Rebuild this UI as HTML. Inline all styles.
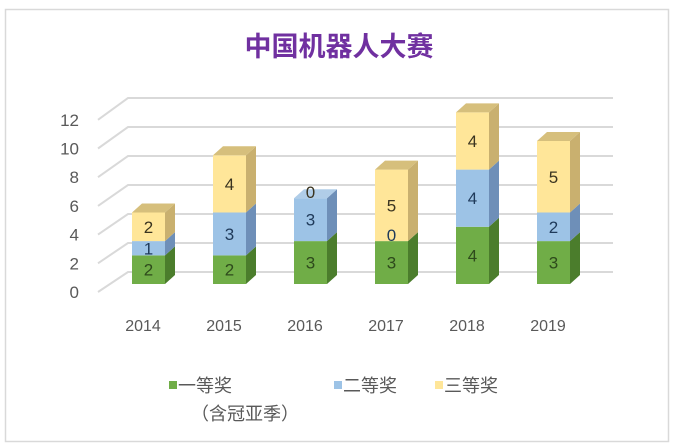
<!DOCTYPE html>
<html><head><meta charset="utf-8"><style>
body{margin:0;background:#fff;}
svg{display:block;font-family:"Liberation Sans","Noto Sans CJK SC",sans-serif;}
</style></head><body>
<svg id="s" width="678" height="448" viewBox="0 0 678 448" xmlns="http://www.w3.org/2000/svg">
<rect x="5.5" y="9.5" width="663" height="432" fill="#fff" stroke="#d9d9d9" stroke-width="1.5"/>
<text x="339" y="56" text-anchor="middle" font-size="27" font-weight="bold" fill="#7030a0" font-family="'Noto Sans CJK SC',sans-serif">中国机器人大赛</text>
<g id="grid"></g>
<g id="bars"></g>
<g font-size="16" fill="#595959" text-anchor="middle">
<text x="143" y="331">2014</text><text x="224" y="331">2015</text><text x="305" y="331">2016</text>
<text x="386" y="331">2017</text><text x="467" y="331">2018</text><text x="548" y="331">2019</text>
</g>
<g font-size="18" fill="#595959">
<rect x="169" y="381" width="8" height="8" fill="#70ad47"/>
<text x="178" y="392" font-family="'Noto Sans CJK SC',sans-serif">一等奖</text>
<text x="191" y="420" font-family="'Noto Sans CJK SC',sans-serif">（含冠亚季）</text>
<rect x="334" y="381" width="8" height="8" fill="#9dc3e6"/>
<text x="343" y="392" font-family="'Noto Sans CJK SC',sans-serif">二等奖</text>
<rect x="435" y="381" width="8" height="8" fill="#ffe699"/>
<text x="444" y="392" font-family="'Noto Sans CJK SC',sans-serif">三等奖</text>
</g>
</svg>
<script>
var NS="http://www.w3.org/2000/svg";
function el(p,t,a,txt){var e=document.createElementNS(NS,t);for(var k in a)e.setAttribute(k,a[k]);if(txt!==undefined)e.textContent=txt;p.appendChild(e);return e;}
var g=document.getElementById("grid");
for(var v=0;v<=12;v+=2){
  var yf=292-v*14.35, yb=272-v*14.5;
  el(g,"polyline",{points:"98,"+yf+" 128,"+yb+" 613,"+yb,fill:"none",stroke:"#d9d9d9","stroke-width":2});
  el(g,"text",{x:79,y:yf+6,"text-anchor":"end","font-size":17,fill:"#595959"},String(v));
}
var data=[[2,1,2],[2,3,4],[3,3,0],[3,0,5],[4,4,4],[3,2,5]];
var cols=[["#70ad47","#4b7d2c","#5f9a3a"],["#9dc3e6","#6e8fb8","#b0cde8"],["#ffe699","#c9b06f","#d6bf7c"]];
var tc=["#2e4a1c","#1f3a5a","#3a3420"];
var b=document.getElementById("bars"),U=14.3,W=33,DX=10,DY=9,B=284;
data.forEach(function(d,i){
  var x=132+i*81,y=B;
  for(var s=0;s<3;s++){
    var h=d[s]*U,y2=y-h;
    el(b,"rect",{x:x,y:y2,width:W,height:h,fill:cols[s][0]});
    el(b,"polygon",{points:(x+W)+","+y+" "+(x+W+DX)+","+(y-DY)+" "+(x+W+DX)+","+(y2-DY)+" "+(x+W)+","+y2,fill:cols[s][1]});
    y=y2;
  }
  var ts=d[2]>0?2:(d[1]>0?1:0);
  el(b,"polygon",{points:x+","+y+" "+(x+DX)+","+(y-DY)+" "+(x+W+DX)+","+(y-DY)+" "+(x+W)+","+y,fill:cols[ts][2]});
  y=B;
  for(var s=0;s<3;s++){
    var h=d[s]*U,cy=y-h/2;
    if(d[s]==0){cy=y-6;}
    el(b,"text",{x:x+W/2,y:cy+6,"text-anchor":"middle","font-size":17,fill:tc[s]},String(d[s]));
    y-=h;
  }
});
</script>
</body></html>
